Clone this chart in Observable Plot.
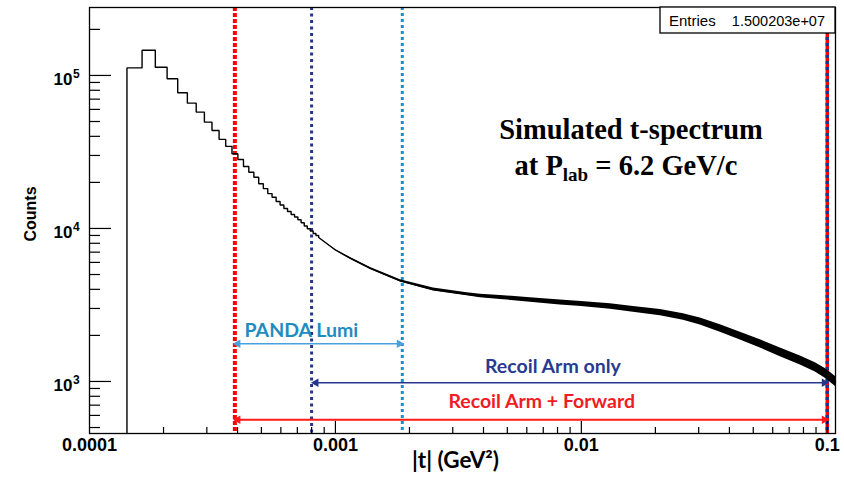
<!DOCTYPE html>
<html><head><meta charset="utf-8">
<script src="https://cdn.jsdelivr.net/npm/d3@7"></script>
<script src="https://cdn.jsdelivr.net/npm/@observablehq/plot@0.6"></script>
<style>
html,body{margin:0;padding:0;background:#fff;}
#chart{width:844px;height:481px;}
</style></head><body><div id="chart"></div>
<script>
// ---------- data ----------
// histogram bins resolved as steps (|t| in GeV^2)
const binEdges = [1.420e-4,1.636e-4,1.852e-4,2.068e-4,2.284e-4,2.500e-4,2.716e-4,2.932e-4,3.148e-4,3.364e-4,3.580e-4,3.796e-4,4.012e-4,4.228e-4,4.444e-4,4.660e-4,4.876e-4,5.092e-4,5.308e-4,5.524e-4,5.740e-4,5.956e-4,6.172e-4,6.388e-4,6.604e-4,6.820e-4,7.036e-4,7.252e-4,7.468e-4,7.684e-4,7.900e-4,8.116e-4,8.332e-4,8.548e-4];
const binCounts = [112000,146000,113000,95100,77100,65900,57600,49500,43700,38200,34400,30800,28200,25400,23300,21600,19600,18200,16900,16000,15000,14240,13510,12910,12350,11870,11400,10900,10380,9950,9620,9270,9000];
// dense tail of the histogram: centre and spread of the fluctuations
const tailT  = [8.548e-4,1.0e-3,1.151e-3,1.388e-3,1.837e-3,2.503e-3,3.43e-3,3.886e-3,4.685e-3,6.20e-3,8.21e-3,0.01,0.01312,0.01627,0.02095,0.026,0.03045,0.03673,0.0443,0.0534,0.0644,0.0777,0.0894,0.0981,0.108];
const tailC  = [8730,7230,6370,5480,4540,3990,3710,3620,3540,3410,3280,3210,3090,2960,2820,2640,2470,2220,1980,1760,1550,1370,1235,1130,1000];
const tailLo = [8730,7165,6294,5399,4460,3908,3627,3528,3435,3299,3164,3092,2967,2834,2691,2512,2343,2100,1867,1655,1453,1280,1151,1050,928];
const tailHi = [8730,7295,6447,5562,4622,4074,3795,3714,3648,3525,3401,3333,3218,3092,2955,2774,2603,2347,2100,1872,1654,1466,1325,1217,1078];

const xDomain = [1e-4, 0.108];
const yDomain = [457, 2.78e5];
const xTickValues = [1e-4, 1e-3, 1e-2, 1e-1];
const xTickLabels = ["0.0001", "0.001", "0.01", "0.1"];
const yTickValues = [1e3, 1e4, 1e5];
const yTickBase = ["10", "10", "10"];
const yTickExp = ["3", "4", "5"];
const minorMultipliers = [2,3,4,5,6,7,8,9];
const yTitle = "Counts";
const xTitle = "|t| (GeV²)";

// acceptance limits
const cutRed = 0.00039, cutNavy = 0.0008, cutLumi = 0.00187, cutMax = 0.1;
const ranges = [
  {label: "PANDA Lumi", t1: cutRed, t2: cutLumi, c: 1763, lx: 7.27e-4, ly: 2154, color: "#4aa0dc", text: "#1f8cc0", w: 1.6},
  {label: "Recoil Arm only", t1: 0.00081, t2: cutMax, c: 980, lx: 7.66e-3, ly: 1240, color: "#26368f", text: "#283a92", w: 1.6},
  {label: "Recoil Arm + Forward", t1: cutRed, t2: cutMax, c: 562, lx: 6.9e-3, ly: 732, color: "#ff1a1a", text: "#f01c24", w: 2}
];
const entriesLabel = "Entries";
const entriesValue = "1.500203e+07";

// ---------- derived tables ----------
const histPts = [{t: binEdges[0], c: yDomain[0]}];
binCounts.forEach((c, k) => { histPts.push({t: binEdges[k], c}, {t: binEdges[k + 1], c}); });
tailT.forEach((t, i) => histPts.push({t, c: tailC[i]}));
const band = tailT.map((t, i) => ({t, lo: tailLo[i], hi: tailHi[i]}));

const decadesX = [1e-4, 1e-3, 1e-2, 1e-1];
const xMinor = decadesX.flatMap(d => minorMultipliers.map(m => m * d)).filter(v => v > xDomain[0] && v < xDomain[1]);
const decadesY = [1e2, 1e3, 1e4, 1e5];
const yMinor = decadesY.flatMap(d => minorMultipliers.map(m => m * d)).filter(v => v > yDomain[0] && v < yDomain[1]);

const W = 844, H = 481, mL = 89, mR = 9, mT = 7, mB = 48;
const fw = W - mL - mR, fh = H - mT - mB;
const ROOT = "Liberation Sans, Arial, Helvetica, sans-serif";
const CAL = "Lato, 'Open Sans', sans-serif";

function statsBox(index, scales, values, dims) {
  const right = dims.width - dims.marginRight, top = dims.marginTop;
  const g = d3.create("svg:g");
  g.append("rect").attr("x", right - 175).attr("y", top).attr("width", 175).attr("height", 26)
    .attr("fill", "white").attr("stroke", "black").attr("stroke-width", 1.3);
  g.append("text").attr("x", right - 166).attr("y", top + 19).attr("text-anchor", "start").attr("font-family", ROOT).attr("font-size", 15).text(entriesLabel);
  g.append("text").attr("x", right - 10).attr("y", top + 19).attr("text-anchor", "end").attr("font-family", ROOT).attr("font-size", 14.5).text(entriesValue);
  return g.node();
}
function yTitleMark(index, scales, values, dims) {
  const cy = dims.marginTop + (dims.height - dims.marginTop - dims.marginBottom) / 2 - 6;
  return d3.create("svg:text")
    .attr("transform", `translate(${dims.marginLeft - 59},${cy}) rotate(-90)`)
    .attr("text-anchor", "middle").attr("dy", "0.35em")
    .attr("font-family", ROOT).attr("font-weight", "bold").attr("font-size", 16).attr("fill", "black")
    .text(yTitle).node();
}
function titleBlock(index, scales, values, dims) {
  const right = dims.width - dims.marginRight;
  const g = d3.create("svg:g").attr("font-family", "'Liberation Serif', 'Times New Roman', serif").attr("font-weight", "bold").attr("fill", "black");
  g.append("text").attr("x", right - 204).attr("y", 139).attr("text-anchor", "middle").attr("font-size", 28.5).text("Simulated t-spectrum");
  const t2 = g.append("text").attr("x", right - 209).attr("y", 175).attr("text-anchor", "middle").attr("font-size", 28.5);
  t2.append("tspan").text("at P");
  t2.append("tspan").attr("font-size", 19).attr("dy", 6).text("lab");
  t2.append("tspan").attr("dy", -6).text(" = 6.2 GeV/c");
  return g.node();
}
function arrowHeads(r) {
  return [
    Plot.dot([r], {x: "t1", y: "c", symbol: "triangle", rotate: -90, r: 3.2, fill: r.color, dx: 3}),
    Plot.dot([r], {x: "t2", y: "c", symbol: "triangle", rotate: 90, r: 3.2, fill: r.color, dx: -3})
  ];
}

const chart = Plot.plot({
  width: W, height: H,
  marginLeft: mL, marginRight: mR, marginTop: mT, marginBottom: mB,
  style: {background: "white", fontFamily: ROOT, overflow: "visible"},
  x: {type: "log", domain: xDomain, axis: null},
  y: {type: "log", domain: yDomain, axis: null},
  marks: [
    // cut lines
    Plot.ruleX([cutNavy], {stroke: "#26348c", strokeWidth: 3, strokeDasharray: "3,3.5"}),
    Plot.ruleX([cutLumi], {stroke: "#1e8ec4", strokeWidth: 3, strokeDasharray: "3,3"}),
    Plot.ruleX([cutRed], {stroke: "#ff0000", strokeWidth: 4, strokeDasharray: "4,2"}),
    Plot.ruleX([cutMax], {stroke: "#ff0000", strokeWidth: 3.5}),
    Plot.ruleX([cutMax], {stroke: "#26348c", strokeWidth: 3.5, strokeDasharray: "3,3"}),
    // histogram
    Plot.areaY(band, {x: "t", y1: "lo", y2: "hi", fill: "black"}),
    Plot.line(histPts, {x: "t", y: "c", stroke: "black", strokeWidth: 1.4, strokeLinejoin: "miter"}),
    // ranges
    Plot.link(ranges, {x1: "t1", x2: "t2", y1: "c", y2: "c", stroke: "color", strokeWidth: "w"}),
    ...ranges.flatMap(arrowHeads),
    Plot.text(ranges, {x: "lx", y: "ly", text: "label", fill: "text", fontSize: 19.5, fontWeight: "bold", fontFamily: CAL}),
    // frame & ticks
    Plot.frame({stroke: "black", strokeWidth: 1.3}),
    Plot.tickY(yTickValues, {y: d => d, insetRight: fw - 22, stroke: "black", strokeWidth: 1.2}),
    Plot.tickY(yMinor, {y: d => d, insetRight: fw - 11, stroke: "black", strokeWidth: 1.2}),
    Plot.tickX(xTickValues.filter(v => v > xDomain[0]), {x: d => d, insetTop: fh - 12, stroke: "black", strokeWidth: 1.2}),
    Plot.tickX(xMinor, {x: d => d, insetTop: fh - 6, stroke: "black", strokeWidth: 1.2}),
    // tick labels
    Plot.text(xTickValues, {x: d => d, frameAnchor: "bottom", dy: 17, text: (d, i) => xTickLabels[i], fontSize: 18, fontWeight: "bold", fill: "black"}),
    Plot.text(yTickValues, {y: d => d, frameAnchor: "left", dx: -17, dy: 4, textAnchor: "end", text: (d, i) => yTickBase[i], fontSize: 17, fontWeight: "bold", fill: "black"}),
    Plot.text(yTickValues, {y: d => d, frameAnchor: "left", dx: -16.5, dy: -1.5, textAnchor: "start", text: (d, i) => yTickExp[i], fontSize: 12, fontWeight: "bold", fill: "black"}),
    // axis titles
    yTitleMark,
    Plot.text([xTitle], {frameAnchor: "bottom", dx: -7, dy: 34, text: d => d, fontSize: 22.5, fontWeight: "bold", fontFamily: CAL, fill: "black"}),
    // title & stats box
    titleBlock,
    statsBox
  ]
});
document.getElementById("chart").appendChild(chart);
</script></body></html>
